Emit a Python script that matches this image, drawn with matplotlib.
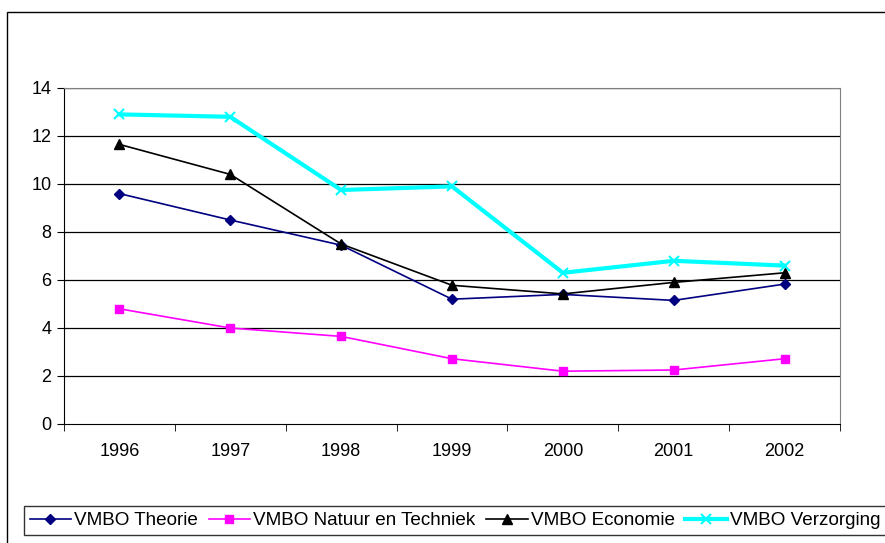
import numpy as np
import matplotlib.pyplot as plt
from matplotlib.patches import Rectangle

plt.rcParams['font.family'] = ['Liberation Sans', 'DejaVu Sans']

# Data
years = ['1996', '1997', '1998', '1999', '2000', '2001', '2002']
theorie = [9.6, 8.5, 7.45, 5.2, 5.4, 5.15, 5.83]
natuur_techniek = [4.8, 4.0, 3.65, 2.72, 2.2, 2.25, 2.72]
economie = [11.65, 10.4, 7.5, 5.78, 5.42, 5.9, 6.3]
verzorging = [12.9, 12.8, 9.75, 9.9, 6.3, 6.8, 6.6]
y_ticks = [0, 2, 4, 6, 8, 10, 12, 14]

fig = plt.figure(figsize=(8.85, 5.43), dpi=100, facecolor='white')
ax = fig.add_axes([64 / 885, 1 - 424 / 543, 776 / 885, 336 / 543])

x = np.arange(len(years))
ax.plot(x, theorie, color='#000080', lw=1.2, marker='D', ms=5.5, label='VMBO Theorie')
ax.plot(x, natuur_techniek, color='#FF00FF', lw=1.2, marker='s', ms=6, label='VMBO Natuur en Techniek')
ax.plot(x, economie, color='black', lw=1.2, marker='^', ms=7, label='VMBO Economie')
ax.plot(x, verzorging, color='#00FFFF', lw=3, marker='x', ms=7, mew=1.5, label='VMBO Verzorging')

ax.set_xlim(-0.5, len(years) - 0.5)
ax.set_ylim(0, 14)
ax.set_yticks(y_ticks)
ax.set_xticks(x)
ax.set_xticklabels(years)
ax.set_xticks(np.arange(-0.5, len(years)), minor=True)
ax.tick_params(axis='x', which='major', length=0, pad=14, labelsize=13)
ax.tick_params(axis='x', which='minor', length=5, direction='out', color='black')
ax.tick_params(axis='y', length=5, direction='out', labelsize=13, pad=4)

for yv in y_ticks[1:]:
    ax.axhline(yv, color='black', lw=0.9, zorder=0)

ax.spines['left'].set_color('black')
ax.spines['bottom'].set_color('black')
ax.spines['top'].set_color('#808080')
ax.spines['right'].set_color('#808080')

# outer chart border
fig.patches.append(Rectangle((7 / 885, -0.1), 1.0, 1 - 12 / 543 + 0.1,
                             transform=fig.transFigure, fill=False,
                             edgecolor='black', lw=1))

leg = fig.legend(loc='lower left', bbox_to_anchor=(24 / 885, 8 / 543), ncol=4,
                 fontsize=13.6, frameon=True, fancybox=False, handlelength=2.2,
                 handletextpad=0.17, columnspacing=0.55, borderpad=0.3,
                 borderaxespad=0)
leg.get_frame().set_edgecolor('black')
leg.get_frame().set_linewidth(1)

fig.savefig('out.png', dpi=100, facecolor='white')
